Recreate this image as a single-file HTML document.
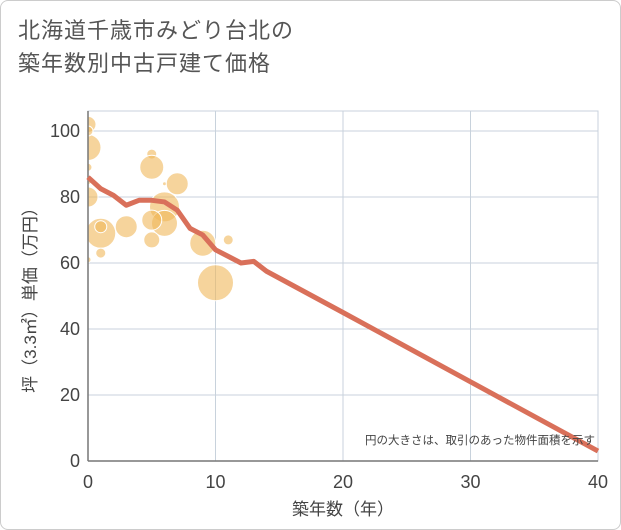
<!DOCTYPE html>
<html><head><meta charset="utf-8"><style>
body{margin:0;background:#fff;font-family:"Liberation Sans","Noto Sans CJK JP",sans-serif;}
#wrap{position:relative;width:619px;height:528px;border:1px solid #ccc;border-radius:8px;overflow:hidden;}
#title{position:absolute;left:17px;top:13px;font-size:22px;line-height:33px;color:#555;letter-spacing:1px;}
</style></head><body>
<div id="wrap">
<div id="title">北海道千歳市みどり台北の<br>築年数別中古戸建て価格</div>
<svg id="c" width="621" height="530" style="position:absolute;left:0;top:0"><defs><clipPath id="pc"><rect x="87" y="110" width="510" height="350"/></clipPath></defs></svg>
</div>
<script>
const xTicks=[0,10,20,30,40];
const yTicks=[0,20,40,60,80,100];
const bubbleYears=[0,0,0,0,0,0,0,1,1,1,3,5,5,6,7,6,6,5,5,9,10,11];
const bubbleValues=[102,95,100,89,80,85,61,69,71,63,71,93,89,84,84,77,72,73,67,66,54,67];
const bubbleSizes=[8,13,5,4,10,4,3,15,6,5,11,5,12,2,11,15,13,10,8,13,18,5];
const lineYears=[0,1,2,3,4,5,6,7,8,9,10,11,12,13,14,20,30,40];
const lineValues=[86,82.5,80.5,77.5,79,79,78.5,76,70.5,68.5,64,62,60,60.5,57.5,45,24,3];
const NS="http://www.w3.org/2000/svg";
const svg=document.getElementById('c');
const X0=87,X1=597,Y0=460,Y1=130;
const xs=v=>X0+(X1-X0)*v/40;
const ys=v=>Y0-(Y0-Y1)*v/100;
function mk(t,a,p){const e=document.createElementNS(NS,t);for(const k in a)e.setAttribute(k,a[k]);(p||svg).appendChild(e);return e;}
const frame=mk('rect',{x:X0,y:110,width:X1-X0,height:Y0-110,fill:'none',stroke:'#c8d2dc'});


yTicks.forEach(v=>{
 if(v>0){const g=mk('line',{x1:X0,x2:X1,y1:ys(v),y2:ys(v),stroke:'#c8d2dc'});
 
 }
 const t=mk('text',{x:X0-8,y:ys(v)+6,'text-anchor':'end','font-size':18,fill:'#444'});t.textContent=v;
 
 
});
xTicks.forEach(v=>{
 if(v>0){const g=mk('line',{x1:xs(v),x2:xs(v),y1:110,y2:Y0,stroke:'#c8d2dc'});
 
 }
 const t=mk('text',{x:xs(v),y:Y0+27,'text-anchor':'middle','font-size':18,fill:'#444'});t.textContent=v;
 
 
});
const g2=mk('g',{'clip-path':'url(#pc)'});
bubbleYears.forEach((yr,i)=>{
 const c=mk('circle',{cx:xs(yr),cy:ys(bubbleValues[i]),r:bubbleSizes[i],fill:'#f0b75a','fill-opacity':0.6,stroke:'#fff','stroke-width':1},g2);
 
 
});
const ax=mk('line',{x1:X0,x2:X0,y1:110,y2:Y0,stroke:'#777','stroke-width':1.5});


const bx=mk('line',{x1:X0,x2:X1,y1:Y0,y2:Y0,stroke:'#777','stroke-width':1.5});


const pl=mk('polyline',{points:lineYears.map((y,i)=>xs(y)+','+ys(lineValues[i])).join(' '),fill:'none',stroke:'#d9705a','stroke-width':5,'stroke-linejoin':'round'});


const note=mk('text',{x:594,y:443,'text-anchor':'end','font-size':11.5,fill:'#444'});note.textContent='円の大きさは、取引のあった物件面積を示す';


const xt=mk('text',{x:342,y:514,'text-anchor':'middle','font-size':17,fill:'#444'});xt.textContent='築年数（年）';


const yt=mk('text',{x:0,y:0,'text-anchor':'middle','font-size':17,fill:'#444',transform:'translate(35,295) rotate(-90)'});yt.textContent='坪（3.3㎡）単価（万円）';


</script>
</body></html>
